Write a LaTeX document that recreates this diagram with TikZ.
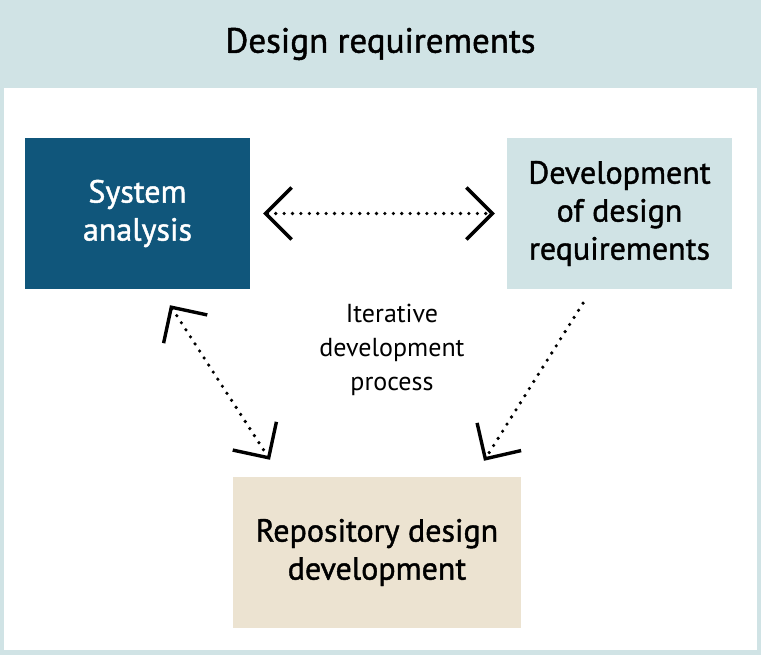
\documentclass[tikz,border=0pt]{standalone}
\usepackage{fontspec}
\setmainfont{PT Sans}
\newfontfamily\medfont[FakeBold=1.3]{PT Sans}
\usetikzlibrary{arrows.meta}
\definecolor{reqblue}{HTML}{D0E3E5}
\definecolor{sysblue}{HTML}{10567B}
\definecolor{repbeige}{HTML}{ECE3D1}
\tikzset{
	box/.style={minimum width=225pt, minimum height=151pt, inner sep=0pt, align=center, font=\medfont\fontsize{32}{38}\selectfont},
	link/.style={line width=3.6pt, line cap=round, dash pattern=on 0pt off 8.4pt},
	chev/.tip={Straight Barb[length=26pt, width=52pt, line width=3.4pt]}
}

\begin{document}
\begin{tikzpicture}[x=1pt, y=-1pt]
			%%%%% START %%%%%
			
			\useasboundingbox (0, 0) rectangle (761, 655);
			\fill[reqblue] (0, 0) rectangle (761, 655);
			\fill[white] (4, 88) rectangle (757, 650);
			
			\node[font=\medfont\fontsize{35}{40}\selectfont] (title) at (380.5, 44) {Design requirements};
			
			\node[box, fill=sysblue, text=white] (sys) at (137.5, 213.5) {System\\analysis};
			\node[box, fill=reqblue] (dev) at (619.5, 213.5) {Development\\of design\\requirements};
			\node[box, fill=repbeige, minimum width=288pt] (rep) at (377, 552.5) {Repository design\\development};
			
			\node[align=center, font=\fontsize{26}{34}\selectfont] (iter) at (392, 350) {Iterative\\development\\process};
			
			\draw[link, chev-chev] ([xshift=13pt]sys.east) -- ([xshift=-12pt]dev.west);
			\draw[link, chev-chev] ([xshift=32.5pt, yshift=-16pt]sys.south) -- ([xshift=-107pt, yshift=17pt]rep.north);
			\draw[link, -chev] ([xshift=-36.5pt, yshift=-14pt]dev.south) -- ([xshift=107pt, yshift=16pt]rep.north);
			
			%%%%% END %%%%%
\end{tikzpicture}
\end{document}
